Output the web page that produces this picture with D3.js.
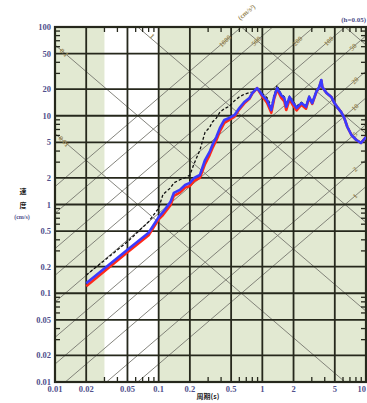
<!DOCTYPE html>
<html><head><meta charset="utf-8">
<script src="https://cdn.jsdelivr.net/npm/d3@7/dist/d3.min.js"></script>
<style>body{margin:0;background:#fff}svg{display:block}</style>
</head><body>
<svg id="c" width="367" height="403"></svg>
<script>
const periods = [0.02,0.05,0.08,0.1,0.11,0.13,0.14,0.16,0.18,0.2,0.22,0.25,0.28,0.31,0.33,0.36,0.39,0.43,0.48,0.54,0.6,0.67,0.75,0.8,0.89,1.0,1.11,1.22,1.3,1.39,1.52,1.63,1.7,1.83,1.95,2.14,2.38,2.64,2.83,3.03,3.31,3.54,3.71,3.79,4.16,4.63,4.96,5.26,5.76,6.17,6.61,7.24,8.07,8.94,10];
const blueVals = [0.13,0.31,0.48,0.72,0.82,1.07,1.35,1.46,1.66,1.75,1.99,2.15,3.17,3.91,4.68,5.76,7.28,8.96,9.44,10.2,12.2,14.3,15.8,18.0,20.5,17.1,15.0,11.6,16.3,20.5,17.1,15.8,12.6,16.3,14.3,12.2,13.9,12.6,16.3,13.9,18.5,21.1,25.3,21.1,18.0,16.3,13.9,12.6,11.0,9.44,7.47,6.07,5.33,4.93,5.76];
const redVals = [0.12,0.29,0.45,0.68,0.76,0.98,1.25,1.36,1.55,1.62,1.85,2.0,2.85,3.6,4.3,5.3,6.7,8.3,9.0,9.8,11.8,13.8,15.5,17.8,20.5,16.5,14.0,10.8,15.5,19.8,16.0,14.5,11.6,15.3,13.4,11.5,13.3,12.0,16.0,13.6,18.3,21.0,25.0,21.0,18.0,16.3,13.9,12.6,11.0,9.44,7.47,6.07,5.33,4.93,5.76];
const blackVals = [0.16,0.38,0.64,0.91,1.3,1.54,1.75,1.9,2.0,2.15,2.9,4.1,6.5,7.4,8.5,9.4,11.0,12.0,12.8,14.8,16.3,17.5,18.2,18.5,20.5,17.8,16.0,12.8,17.0,22.0,17.5,16.3,13.5,16.5,14.8,12.8,14.2,13.0,16.5,14.2,18.8,21.3,25.6,21.3,18.2,16.5,14.0,12.8,11.2,9.6,7.6,6.15,5.4,5.0,5.85];

const xTicks = [0.01,0.02,0.05,0.1,0.2,0.5,1,2,5,10];
const yTicks = [0.01,0.02,0.05,0.1,0.2,0.5,1,2,5,10,20,50,100];
const accelLines = [1,2,5,10,20,50,100,200,500,1000];
const accelTopLabels = [1000,500,200,100,50];
const accelRightLabels = [20,10,5,2,1];
const dispLines = [0.01,0.1,1,10,100];
const dispLeftLabels = [0.1,0.01];
const dispTopLabels = [1];
const whiteBand = [0.03,0.1];

const L=55,R=366,T=27,B=382;
const x = d3.scaleLog().domain([0.01,10]).range([L,R]);
const y = d3.scaleLog().domain([0.01,100]).range([B,T]);
const svg = d3.select('#c');
const TWO_PI = 2*Math.PI;

svg.append('defs').append('clipPath').attr('id','clp')
  .append('rect').attr('x',L).attr('y',T).attr('width',R-L).attr('height',B-T);

svg.append('rect').attr('x',L).attr('y',T).attr('width',R-L).attr('height',B-T).attr('fill','#e2e9d2');
svg.append('rect').attr('x',x(whiteBand[0])).attr('y',T).attr('width',x(whiteBand[1])-x(whiteBand[0])).attr('height',B-T).attr('fill','#ffffff');

const g = svg.append('g').attr('clip-path','url(#clp)');
const diagCol = '#76766e';
accelLines.forEach(a=>{
  g.append('line').attr('x1',x(0.001)).attr('y1',y(a*0.001/TWO_PI))
   .attr('x2',x(100)).attr('y2',y(a*100/TWO_PI))
   .attr('stroke',diagCol).attr('stroke-width',0.9);
});
dispLines.forEach(dd=>{
  g.append('line').attr('x1',x(0.001)).attr('y1',y(TWO_PI*dd/0.001))
   .attr('x2',x(100)).attr('y2',y(TWO_PI*dd/100))
   .attr('stroke',diagCol).attr('stroke-width',0.9);
});

const gridCol = '#26281c';
xTicks.forEach(t=>{
  svg.append('line').attr('x1',x(t)).attr('x2',x(t)).attr('y1',T).attr('y2',B)
    .attr('stroke',gridCol).attr('stroke-width',1.8);
});
yTicks.forEach(t=>{
  svg.append('line').attr('y1',y(t)).attr('y2',y(t)).attr('x1',L).attr('x2',R)
    .attr('stroke',gridCol).attr('stroke-width',1.8);
});
const minors = [];
[0.01,0.1,1,10].forEach(dec=>[3,4,6,7,8,9].forEach(m=>minors.push(dec*m)));
minors.filter(v=>v<10).forEach(v=>{
  svg.append('line').attr('x1',x(v)).attr('x2',x(v)).attr('y1',B).attr('y2',B-5).attr('stroke',gridCol).attr('stroke-width',1.3);
  svg.append('line').attr('x1',x(v)).attr('x2',x(v)).attr('y1',T).attr('y2',T+5).attr('stroke',gridCol).attr('stroke-width',1.3);
});
minors.filter(v=>v<100).forEach(v=>{
  svg.append('line').attr('y1',y(v)).attr('y2',y(v)).attr('x1',L).attr('x2',L+5).attr('stroke',gridCol).attr('stroke-width',1.3);
  svg.append('line').attr('y1',y(v)).attr('y2',y(v)).attr('x1',R).attr('x2',R-5).attr('stroke',gridCol).attr('stroke-width',1.3);
});
svg.append('rect').attr('x',L).attr('y',T).attr('width',R-L).attr('height',B-T)
  .attr('fill','none').attr('stroke',gridCol).attr('stroke-width',2.2);

const line = d3.line().x((d,i)=>x(periods[i])).y(d=>y(d));
const cg = svg.append('g').attr('clip-path','url(#clp)');
cg.append('path').datum(blackVals).attr('d',line).attr('fill','none').attr('stroke','#111').attr('stroke-width',1.3).attr('stroke-dasharray','3,2');
cg.append('path').datum(redVals).attr('d',line).attr('fill','none').attr('stroke','#ff2a1a').attr('stroke-width',2.6).attr('stroke-linejoin','round');
cg.append('path').datum(blueVals).attr('d',line).attr('fill','none').attr('stroke','#3a3aff').attr('stroke-width',2.6).attr('stroke-linejoin','round');

const labCol = '#50508c';
const fnt = 'Liberation Serif, DejaVu Serif, serif';
yTicks.forEach(t=>{
  svg.append('text').attr('x',L-4).attr('y',y(t)+3).attr('text-anchor','end')
    .attr('font-family',fnt).attr('font-size',8.5).attr('font-weight','bold').attr('fill',labCol).text(t);
});
xTicks.forEach((t,i)=>{
  const last = i===xTicks.length-1;
  svg.append('text').attr('x',last?366:x(t)).attr('y',B+10).attr('text-anchor',last?'end':'middle')
    .attr('font-family',fnt).attr('font-size',8.5).attr('font-weight','bold').attr('fill',labCol).text(t);
});

const dlCol = '#9a8a5a';
const lg = svg.append('g');
function diagLabel(px,py,rot,txt){
  lg.append('text').attr('transform',`translate(${px},${py}) rotate(${rot})`)
    .attr('text-anchor','middle').attr('dy','0.35em')
    .attr('font-family',fnt).attr('font-size',7).attr('font-weight','bold').attr('fill',dlCol).text(txt);
}
accelTopLabels.forEach(a=>{
  const sv = y.invert(T+14);
  let px = Math.min(x(TWO_PI*sv/a), 353);
  const py = y(a*x.invert(px)/TWO_PI);
  diagLabel(px,py,-45,a);
});
accelRightLabels.forEach(a=>{
  const px = 355;
  diagLabel(px, y(a*x.invert(px)/TWO_PI), -45, a);
});
dispLeftLabels.forEach(dd=>{
  const px = 64;
  diagLabel(px, y(TWO_PI*dd/x.invert(px)), 45, dd);
});
dispTopLabels.forEach(dd=>{
  const sv = y.invert(T+9);
  diagLabel(x(TWO_PI*dd/sv)+4, T+9, 45, dd);
});

const tf = 'Noto Sans CJK JP, sans-serif';
svg.append('text').attr('x',23).attr('y',194).attr('text-anchor','middle').attr('font-family',tf).attr('font-size',7).attr('font-weight','bold').attr('fill','#222').text('速');
svg.append('text').attr('x',23).attr('y',208).attr('text-anchor','middle').attr('font-family',tf).attr('font-size',7).attr('font-weight','bold').attr('fill','#222').text('度');
svg.append('text').attr('x',22).attr('y',219).attr('text-anchor','middle').attr('font-family',fnt).attr('font-size',6).attr('font-weight','bold').attr('fill',labCol).text('(cm/s)');
svg.append('text').attr('x',208).attr('y',399).attr('text-anchor','middle').attr('font-family',tf).attr('font-size',7).attr('font-weight','bold').attr('fill','#222').text('周期(s)');
svg.append('text').attr('x',366).attr('y',22).attr('text-anchor','end').attr('font-family',fnt).attr('font-size',7).attr('font-weight','bold').attr('fill',labCol).text('(h=0.05)');
svg.append('text').attr('transform',`translate(248,14) rotate(-40)`).attr('text-anchor','middle')
  .attr('font-family',fnt).attr('font-size',7).attr('font-weight','bold').attr('fill',dlCol).text('(cm/s²)');
</script>
</body></html>
